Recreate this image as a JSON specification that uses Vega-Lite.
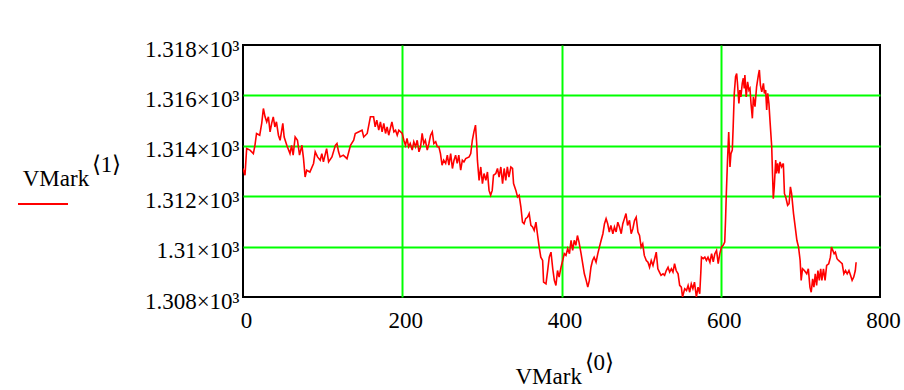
{
  "$schema": "https://vega.github.io/schema/vega-lite/v6.json",
  "width": 637,
  "height": 252,
  "autosize": {"type": "none"},
  "padding": {"left": 243, "top": 45, "right": 24, "bottom": 93},
  "background": "white",
  "data": {"values": [
    {"x":0,"y":1313.10},{"x":2.5,"y":1312.83},{"x":4.6,"y":1313.89},{"x":8.8,"y":1313.83},{"x":13,"y":1313.69},{"x":15,"y":1314.02},{"x":17,"y":1314.49},{"x":21,"y":1314.42},{"x":23.5,"y":1314.89},{"x":25.6,"y":1315.48},{"x":27.7,"y":1315.15},{"x":29.8,"y":1314.95},{"x":31.9,"y":1315.15},{"x":34,"y":1314.55},{"x":36,"y":1314.89},{"x":38,"y":1315.15},{"x":40,"y":1314.75},{"x":42,"y":1314.95},{"x":44.5,"y":1314.42},{"x":46.6,"y":1314.22},{"x":50,"y":1314.89},{"x":51.7,"y":1314.35},{"x":55,"y":1314.02},{"x":59,"y":1313.69},{"x":61,"y":1314.02},{"x":63,"y":1313.63},{"x":65.5,"y":1314.35},{"x":68.4,"y":1314.22},{"x":71,"y":1313.63},{"x":74,"y":1314.02},{"x":76,"y":1313.49},{"x":78,"y":1312.76},{"x":80,"y":1313.03},{"x":84,"y":1312.96},{"x":88.6,"y":1313.30},{"x":90.7,"y":1313.76},{"x":93.6,"y":1313.56},{"x":97,"y":1313.43},{"x":99,"y":1313.69},{"x":101,"y":1313.36},{"x":105,"y":1313.89},{"x":107.5,"y":1313.36},{"x":111.7,"y":1313.56},{"x":116,"y":1314.02},{"x":118,"y":1314.09},{"x":120,"y":1313.76},{"x":122,"y":1313.56},{"x":126,"y":1313.63},{"x":130.6,"y":1313.49},{"x":135,"y":1314.02},{"x":139,"y":1314.22},{"x":141,"y":1314.49},
    {"x":145,"y":1314.55},{"x":149.5,"y":1314.62},{"x":151.6,"y":1314.35},{"x":156,"y":1314.49},{"x":158,"y":1314.82},{"x":160,"y":1315.15},{"x":164,"y":1315.15},{"x":166,"y":1314.75},{"x":168,"y":1315.02},{"x":170.5,"y":1314.62},{"x":172.6,"y":1314.95},{"x":174.7,"y":1314.55},{"x":176.8,"y":1314.89},{"x":179,"y":1314.49},{"x":181,"y":1314.75},{"x":183,"y":1314.42},{"x":187,"y":1314.95},{"x":189.5,"y":1314.55},{"x":191.6,"y":1314.62},{"x":193.7,"y":1314.42},{"x":195.7,"y":1314.62},{"x":200,"y":1314.49},{"x":202,"y":1314.22},{"x":204,"y":1314.02},{"x":206,"y":1314.29},{"x":208,"y":1313.96},{"x":210,"y":1314.09},{"x":212.5,"y":1313.83},{"x":214.5,"y":1314.16},{"x":216.7,"y":1313.96},{"x":218.8,"y":1314.22},{"x":221,"y":1313.76},{"x":223,"y":1313.96},{"x":225,"y":1314.49},{"x":227,"y":1314.09},{"x":229,"y":1314.22},{"x":231.4,"y":1313.83},{"x":233.5,"y":1314.09},{"x":235.6,"y":1314.42},{"x":237.7,"y":1314.55},{"x":239.7,"y":1314.09},{"x":242,"y":1314.16},{"x":244,"y":1313.96},{"x":246,"y":1313.96},{"x":248,"y":1313.69},{"x":250,"y":1313.23},{"x":252,"y":1313.43},{"x":254.5,"y":1313.30},{"x":256.6,"y":1313.63},{"x":258.6,"y":1313.23},{"x":260.8,"y":1313.69},{"x":263,"y":1313.10},{"x":265,"y":1313.43},{"x":267,"y":1313.63},{"x":269,"y":1313.30},{"x":271,"y":1313.63},{"x":273.4,"y":1313.03},{"x":275.5,"y":1313.43},{"x":277.5,"y":1313.36},{"x":279.7,"y":1313.49},{"x":284,"y":1313.56},{"x":286,"y":1313.69},{"x":288,"y":1314.22},{"x":290,"y":1314.55},{"x":292,"y":1314.82},
    {"x":293.5,"y":1314.09},{"x":294.4,"y":1313.43},{"x":296.5,"y":1312.63},{"x":298.6,"y":1313.16},{"x":300.7,"y":1312.50},{"x":302.7,"y":1312.90},{"x":305,"y":1312.63},{"x":307,"y":1312.96},{"x":309,"y":1312.23},{"x":311,"y":1312.04},{"x":313,"y":1312.23},{"x":314.6,"y":1312.83},{"x":317.5,"y":1312.90},{"x":319.6,"y":1313.10},{"x":321.6,"y":1312.76},{"x":323.8,"y":1313.16},{"x":326,"y":1312.50},{"x":328,"y":1313.10},{"x":330,"y":1312.63},{"x":332,"y":1313.16},{"x":334,"y":1312.76},{"x":336.4,"y":1313.16},{"x":338.5,"y":1313.10},{"x":339.8,"y":1312.50},{"x":342.7,"y":1312.23},{"x":344.8,"y":1311.97},{"x":346.8,"y":1312.04},{"x":349,"y":1311.57},{"x":351,"y":1310.97},{"x":353,"y":1310.91},{"x":355,"y":1311.11},{"x":357.4,"y":1311.17},{"x":359.4,"y":1311.31},{"x":361.6,"y":1310.84},{"x":363.7,"y":1310.78},{"x":365.7,"y":1310.64},{"x":367.9,"y":1310.97},{"x":370,"y":1310.44},{"x":372,"y":1309.98},{"x":374,"y":1309.58},{"x":376.3,"y":1309.45},{"x":377.5,"y":1308.59},{"x":380.5,"y":1308.52},{"x":382.6,"y":1309.05},{"x":384.6,"y":1309.58},{"x":386.8,"y":1309.78},{"x":389,"y":1309.12},{"x":391,"y":1308.66},{"x":393,"y":1308.46},{"x":395,"y":1309.05},{"x":397,"y":1308.79},{"x":399.4,"y":1309.18},{"x":401.5,"y":1309.45},{"x":403.5,"y":1309.72},{"x":405.6,"y":1309.65},{"x":407.8,"y":1309.92},{"x":410,"y":1309.72},{"x":412,"y":1310.25},{"x":414,"y":1309.85},{"x":416,"y":1310.25},{"x":418,"y":1310.05},{"x":420,"y":1310.44},{"x":422,"y":1310.18},{"x":424.6,"y":1309.72},{"x":428.7,"y":1308.92},{"x":431,"y":1308.66},{"x":433,"y":1308.39},{"x":435,"y":1308.66},
    {"x":437,"y":1309.18},{"x":439,"y":1309.45},{"x":441,"y":1309.58},{"x":443.4,"y":1309.38},{"x":445.6,"y":1309.72},{"x":447.6,"y":1309.98},{"x":449.8,"y":1310.25},{"x":452,"y":1310.51},{"x":454,"y":1310.91},{"x":456,"y":1311.11},{"x":458,"y":1310.91},{"x":460,"y":1310.58},{"x":462,"y":1310.84},{"x":464.5,"y":1310.51},{"x":466.5,"y":1310.78},{"x":468.6,"y":1310.58},{"x":470.7,"y":1310.97},{"x":472.8,"y":1310.78},{"x":475,"y":1310.51},{"x":477,"y":1310.91},{"x":479,"y":1311.11},{"x":481,"y":1311.31},{"x":483,"y":1310.84},{"x":485.4,"y":1311.04},{"x":487.5,"y":1310.51},{"x":489.6,"y":1310.71},{"x":491.7,"y":1311.04},{"x":493.8,"y":1311.17},{"x":496,"y":1310.58},{"x":498,"y":1310.44},{"x":500,"y":1309.98},{"x":502,"y":1310.11},{"x":504,"y":1309.65},{"x":506.5,"y":1309.45},{"x":508.6,"y":1309.38},{"x":510.6,"y":1309.18},{"x":512.7,"y":1309.45},{"x":514.9,"y":1309.25},{"x":517,"y":1309.52},{"x":519,"y":1309.78},{"x":521,"y":1309.12},{"x":523,"y":1308.99},{"x":525,"y":1308.86},{"x":527.5,"y":1308.92},{"x":529.5,"y":1308.86},{"x":531.6,"y":1309.05},{"x":533.8,"y":1309.18},{"x":535.8,"y":1308.99},{"x":538,"y":1309.12},{"x":540,"y":1308.99},{"x":542,"y":1309.32},{"x":544,"y":1309.05},{"x":546.4,"y":1308.92},{"x":548.4,"y":1308.46},{"x":550.5,"y":1308.39},{"x":552,"y":1308.0},{"x":554.7,"y":1308.33},{"x":557,"y":1308.26},{"x":559,"y":1308.46},{"x":561,"y":1308.19},{"x":563,"y":1308.52},{"x":565,"y":1308.33},{"x":567,"y":1308.59},{"x":569.4,"y":1308.0},{"x":571.5,"y":1308.39},{"x":573.6,"y":1308.13},{"x":575,"y":1308.99},{"x":575.8,"y":1309.58},{"x":578,"y":1309.52},{"x":580,"y":1309.58},{"x":582,"y":1309.45},{"x":584,"y":1309.58},{"x":586.4,"y":1309.38},{"x":588.5,"y":1309.72},{"x":590.6,"y":1309.40},{"x":592.6,"y":1309.72},{"x":594.7,"y":1309.85},{"x":596.8,"y":1309.32},{"x":598.8,"y":1309.72},{"x":601,"y":1309.98},{"x":603,"y":1310.05},{"x":605,"y":1310.18},
    {"x":606,"y":1311.04},{"x":607,"y":1312.10},{"x":608.5,"y":1313.43},{"x":610,"y":1314.55},{"x":611.6,"y":1313.16},{"x":612.8,"y":1313.69},{"x":614.5,"y":1313.83},{"x":615.6,"y":1314.75},{"x":617,"y":1316.08},{"x":618.6,"y":1316.74},{"x":620,"y":1316.87},{"x":621,"y":1316.48},{"x":622.8,"y":1315.68},{"x":624,"y":1316.21},{"x":625.3,"y":1315.94},{"x":627,"y":1316.48},{"x":628.3,"y":1316.68},{"x":629.5,"y":1316.28},{"x":630.3,"y":1316.81},{"x":632,"y":1315.94},{"x":633.7,"y":1316.54},{"x":635.4,"y":1316.21},{"x":636.7,"y":1316.28},{"x":638,"y":1315.68},{"x":639.7,"y":1315.09},{"x":641,"y":1315.94},{"x":643,"y":1315.55},{"x":645,"y":1316.34},{"x":647.3,"y":1316.81},{"x":648.5,"y":1317.01},{"x":649.8,"y":1316.41},{"x":651.5,"y":1316.14},{"x":653.6,"y":1316.48},{"x":654.8,"y":1316.08},{"x":656.4,"y":1316.21},{"x":657.7,"y":1315.42},{"x":659,"y":1316.08},{"x":660.5,"y":1315.68},{"x":661.8,"y":1315.02},{"x":664,"y":1313.96},{"x":665,"y":1312.90},{"x":666,"y":1311.90},{"x":667.2,"y":1312.37},{"x":669,"y":1313.43},{"x":670,"y":1312.90},{"x":671.5,"y":1313.30},{"x":673,"y":1312.90},{"x":674.4,"y":1313.36},{"x":676.5,"y":1313.16},{"x":678.6,"y":1313.30},{"x":680,"y":1312.10},{"x":681.6,"y":1311.97},{"x":684,"y":1311.64},{"x":685.8,"y":1311.70},{"x":687.5,"y":1312.37},{"x":689,"y":1312.10},{"x":691.4,"y":1311.31},{"x":693.5,"y":1310.78},{"x":695.6,"y":1310.25},{"x":697.7,"y":1309.98},{"x":699.7,"y":1309.45},{"x":701,"y":1308.66},{"x":702.7,"y":1309.12},{"x":705,"y":1309.05},{"x":708,"y":1308.92},{"x":710,"y":1309.12},{"x":712,"y":1308.39},{"x":713.6,"y":1308.19},{"x":715.4,"y":1308.72},{"x":717,"y":1308.39},{"x":718.7,"y":1308.92},{"x":720.4,"y":1308.46},{"x":722,"y":1309.05},{"x":723.8,"y":1308.66},{"x":725.5,"y":1309.12},{"x":727,"y":1308.66},{"x":729,"y":1309.12},{"x":731,"y":1308.66},{"x":733,"y":1309.25},{"x":735.6,"y":1309.32},{"x":737.7,"y":1309.58},{"x":739,"y":1309.98},{"x":740.7,"y":1309.85},{"x":742.4,"y":1309.72},{"x":744,"y":1309.78},{"x":746,"y":1309.52},{"x":748,"y":1309.45},{"x":750.5,"y":1309.38},{"x":752.5,"y":1309.32},{"x":754.6,"y":1308.92},{"x":756.7,"y":1309.05},{"x":758.8,"y":1308.92},{"x":761,"y":1309.05},{"x":763,"y":1308.86},{"x":765,"y":1308.66},{"x":767,"y":1308.79},{"x":769,"y":1309.05},{"x":770,"y":1309.38}
  ]},
  "mark": {"type": "line", "strokeWidth": 1.6, "clip": true, "interpolate": "linear"},
  "encoding": {
    "x": {
      "field": "x", "type": "quantitative",
      "scale": {"domain": [0, 800], "nice": false, "zero": false},
      "axis": {
        "values": [0, 200, 400, 600, 800],
        "title": ["\u200b\u00a0\u00a0\u00a0\u00a0\u00a0\u00a0\u00a0\u00a0\u00a0\u00a0\u00a0\u00a0\u27e80\u27e9", "VMark"],
        "titleAlign": "left",
        "titleBaseline": "alphabetic",
        "titleX": 272,
        "titleY": 72,
        "titleLineHeight": 14,
        "titleFontSize": 23,
        "labelFontSize": 23,
        "labelPadding": 12,
        "labelOffset": 3,
        "labelFlush": false,
        "labelOverlap": false,
        "ticks": false,
        "domain": false,
        "grid": true,
        "gridColor": "#00ff00",
        "gridWidth": 2,
        "gridOpacity": {"condition": {"test": "datum.value === 0 || datum.value === 800", "value": 0}, "value": 1}
      }
    },
    "y": {
      "field": "y", "type": "quantitative",
      "scale": {"domain": [1308, 1318], "nice": false, "zero": false},
      "axis": {
        "values": [1308, 1310, 1312, 1314, 1316, 1318],
        "labelExpr": "format(datum.value / 1000, '.3~f') + '\u00d710\u00b3'",
        "title": null,
        "labelFontSize": 23,
        "labelPadding": 4,
        "labelOffset": 4,
        "labelFlush": false,
        "labelOverlap": false,
        "ticks": false,
        "domain": false,
        "grid": true,
        "gridColor": "#00ff00",
        "gridWidth": 2,
        "gridOpacity": {"condition": {"test": "datum.value === 1308 || datum.value === 1318", "value": 0}, "value": 1}
      }
    },
    "color": {
      "datum": "VMark",
      "scale": {"range": ["#ff0000"]},
      "legend": {
        "orient": "none",
        "legendX": -226,
        "legendY": 109,
        "title": ["\u200b\u00a0\u00a0\u00a0\u00a0\u00a0\u00a0\u00a0\u00a0\u00a0\u00a0\u00a0\u00a0\u00a0\u27e81\u27e9", "\u200b\u00a0VMark"],
        "titleAlign": "left",
        "titleFontSize": 23,
        "titleFontWeight": "normal",
        "titleLineHeight": 14,
        "titlePadding": -13,
        "symbolType": "stroke",
        "symbolSize": 2500,
        "symbolStrokeWidth": 2,
        "labelExpr": "''",
        "padding": 0
      }
    }
  },
  "config": {
    "font": "Liberation Serif",
    "view": {"stroke": "#000000", "strokeWidth": 2},
    "axis": {"labelFont": "Liberation Serif", "titleFont": "Liberation Serif", "labelColor": "#000000", "titleColor": "#000000", "titleFontWeight": "normal"},
    "legend": {"titleFont": "Liberation Serif", "labelFont": "Liberation Serif", "titleColor": "#000000"}
  }
}
